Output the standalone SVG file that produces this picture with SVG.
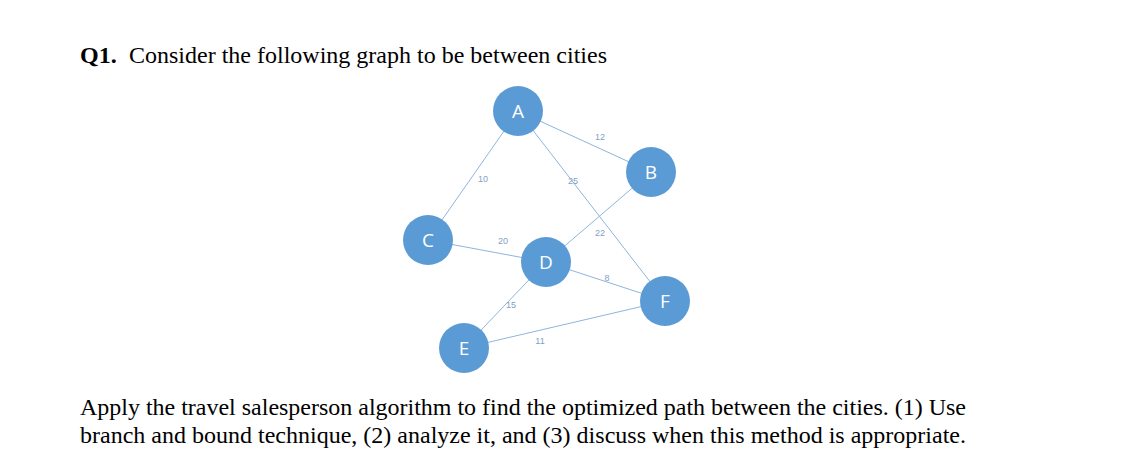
<svg xmlns="http://www.w3.org/2000/svg" width="1136" height="474" viewBox="0 0 1136 474">
<style>
.t{font-family:"Liberation Serif",serif;font-size:24px;fill:#000}
.e{stroke:#8fb4de;stroke-width:1}
.n{fill:#5b9bd5}
.nl{font-family:"Open Sans","Liberation Sans",sans-serif;font-size:19px;fill:#fff;text-anchor:middle;dominant-baseline:central}
.w{font-family:"Liberation Sans",sans-serif;font-size:9px;fill:#7f9fc4;text-anchor:middle}
</style>
<rect width="1136" height="474" fill="#fff"/>
<text class="t" x="80" y="63" font-weight="bold" font-size="26">Q1.</text>
<text class="t" x="129" y="63" textLength="478" lengthAdjust="spacingAndGlyphs">Consider the following graph to be between cities</text>
<g id="connectors">
<line class="e" x1="518" y1="111" x2="651" y2="172"/>
<line class="e" x1="518" y1="111" x2="428" y2="240"/>
<line class="e" x1="518" y1="111" x2="665" y2="301"/>
<line class="e" x1="651" y1="172" x2="546" y2="262"/>
<line class="e" x1="428" y1="240" x2="546" y2="262"/>
<line class="e" x1="546" y1="262" x2="665" y2="301"/>
<line class="e" x1="546" y1="262" x2="464" y2="348"/>
<line class="e" x1="464" y1="348" x2="665" y2="301"/>
<text class="w" x="600" y="140">12</text>
<text class="w" x="483" y="182">10</text>
<text class="w" x="573" y="184">25</text>
<text class="w" x="600" y="236">22</text>
<text class="w" x="503" y="244">20</text>
<text class="w" x="607" y="281">8</text>
<text class="w" x="511" y="308">15</text>
<text class="w" x="540" y="344">11</text>
</g>
<g id="A"><circle class="n" cx="518" cy="111" r="25"/><text class="nl" x="518" y="111">A</text></g>
<g id="B"><circle class="n" cx="651" cy="172" r="25"/><text class="nl" x="651" y="172">B</text></g>
<g id="C"><circle class="n" cx="428" cy="240" r="25"/><text class="nl" x="428" y="240">C</text></g>
<g id="D"><circle class="n" cx="546" cy="262" r="25"/><text class="nl" x="546" y="262">D</text></g>
<g id="F"><circle class="n" cx="665" cy="301" r="25"/><text class="nl" x="665" y="301">F</text></g>
<g id="E"><circle class="n" cx="464" cy="348" r="25"/><text class="nl" x="464" y="348">E</text></g>
<text class="t" x="80" y="415" textLength="886" lengthAdjust="spacingAndGlyphs">Apply the travel salesperson algorithm to find the optimized path between the cities. (1) Use</text>
<text class="t" x="80" y="443" textLength="886" lengthAdjust="spacingAndGlyphs">branch and bound technique, (2) analyze it, and (3) discuss when this method is appropriate.</text>
</svg>
